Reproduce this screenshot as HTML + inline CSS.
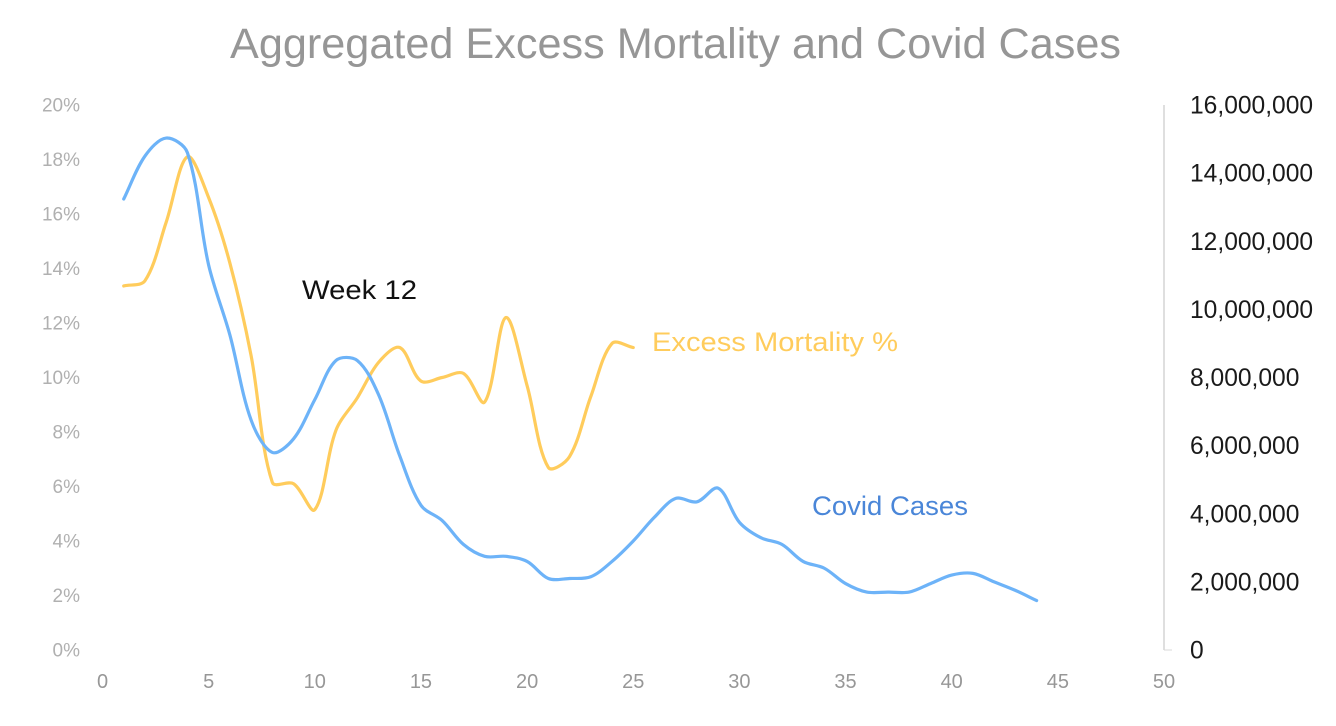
<!DOCTYPE html>
<html lang="en">
<head>
<meta charset="utf-8">
<title>Aggregated Excess Mortality and Covid Cases</title>
<style>
html,body{margin:0;padding:0;background:#fff;width:1336px;height:726px;overflow:hidden}
svg{display:block;font-family:"Liberation Sans",sans-serif}
</style>
</head>
<body>
<svg id="chart" width="1336" height="726" viewBox="0 0 1336 726" xmlns="http://www.w3.org/2000/svg">
  <rect width="1336" height="726" fill="#ffffff"/>
  <text x="675.5" y="58" text-anchor="middle" font-size="43" fill="#969696" textLength="891" lengthAdjust="spacingAndGlyphs">Aggregated Excess Mortality and Covid Cases</text>
  <line id="right-axis" stroke="#bfbfbf" stroke-width="1"/>
  <g id="left-ticks"></g>
  <g id="right-ticks"></g>
  <g id="x-ticks"></g>
  <path id="line-mortality" fill="none" stroke="#ffcc5c" stroke-width="3.2" stroke-linecap="round" stroke-linejoin="round"/>
  <path id="line-cases" fill="none" stroke="#6db3f8" stroke-width="3.2" stroke-linecap="round" stroke-linejoin="round"/>
  <text x="302" y="299" font-size="27" fill="#111111" textLength="115" lengthAdjust="spacingAndGlyphs">Week 12</text>
  <text x="652" y="351" font-size="27" fill="#ffcc5c" textLength="246" lengthAdjust="spacingAndGlyphs">Excess Mortality %</text>
  <text x="812" y="515" font-size="27" fill="#4a86d8" textLength="156" lengthAdjust="spacingAndGlyphs">Covid Cases</text>
</svg>
<script>
const mortalityPct = [13.36,13.55,15.7,18.1,16.6,14.2,10.8,6.15,6.1,5.15,8.07,9.25,10.55,11.1,9.87,10,10.15,9.1,12.2,9.7,6.7,7.1,9.3,11.25,11.1];
const covidCases = [13240000,14500000,15030000,14600000,11300000,9250000,6750000,5800000,6200000,7350000,8500000,8500000,7500000,5700000,4250000,3800000,3100000,2750000,2750000,2600000,2100000,2100000,2150000,2600000,3200000,3900000,4450000,4350000,4750000,3750000,3300000,3100000,2600000,2400000,1950000,1700000,1700000,1700000,1950000,2200000,2250000,2000000,1750000,1450000];
const leftTickValues = [0,2,4,6,8,10,12,14,16,18,20];
const rightTickValues = [0,2000000,4000000,6000000,8000000,10000000,12000000,14000000,16000000];
const xTickValues = [0,5,10,15,20,25,30,35,40,45,50];

const X0 = 102.5, X1 = 1164, Y0 = 650, Y1 = 105;
const NS = 'http://www.w3.org/2000/svg';
const xScale = v => X0 + (X1 - X0) * v / 50;
const yLeft = v => Y0 - (Y0 - Y1) * v / 20;
const yRight = v => Y0 - (Y0 - Y1) * v / 16000000;
const dist = (a, b) => Math.hypot(b[0] - a[0], b[1] - a[1]);

function smoothPath(values, yScale) {
  const pts = values.map((v, i) => [xScale(i + 1), yScale(v)]);
  let d = 'M' + pts[0][0].toFixed(2) + ' ' + pts[0][1].toFixed(2);
  for (let i = 0; i < pts.length - 1; i++) {
    const p0 = pts[Math.max(i - 1, 0)];
    const p1 = pts[i];
    const p2 = pts[i + 1];
    const p3 = pts[Math.min(i + 2, pts.length - 1)];
    const d12 = dist(p1, p2);
    const f1 = d12 / (dist(p0, p1) + d12 || 1) / 3 * 1.0;
    const f2 = d12 / (d12 + dist(p2, p3) || 1) / 3 * 1.0;
    const c1x = p1[0] + (p2[0] - p0[0]) * f1;
    const c1y = p1[1] + (p2[1] - p0[1]) * f1;
    const c2x = p2[0] - (p3[0] - p1[0]) * f2;
    const c2y = p2[1] - (p3[1] - p1[1]) * f2;
    d += 'C' + c1x.toFixed(2) + ' ' + c1y.toFixed(2) + ' ' + c2x.toFixed(2) + ' ' + c2y.toFixed(2) + ' ' + p2[0].toFixed(2) + ' ' + p2[1].toFixed(2);
  }
  return d;
}

document.getElementById('line-mortality').setAttribute('d', smoothPath(mortalityPct, yLeft));
document.getElementById('line-cases').setAttribute('d', smoothPath(covidCases, yRight));

const axis = document.getElementById('right-axis');
axis.setAttribute('x1', xScale(50));
axis.setAttribute('x2', xScale(50));
axis.setAttribute('y1', yRight(16000000));
axis.setAttribute('y2', yRight(0));

const leftGroup = document.getElementById('left-ticks');
leftTickValues.forEach(v => {
  const el = document.createElementNS(NS, 'text');
  
  
  el.setAttribute('x', 80);
  el.setAttribute('y', yLeft(v) + 6.5);
  el.setAttribute('text-anchor', 'end');
  el.setAttribute('font-size', '19');
  el.setAttribute('fill', '#b0b0b0');
  el.textContent = v + '%';
  leftGroup.appendChild(el);
});

const rightGroup = document.getElementById('right-ticks');
rightTickValues.forEach(v => {
  const el = document.createElementNS(NS, 'text');
  
  
  el.setAttribute('x', 1190);
  el.setAttribute('y', yRight(v) + 8.5);
  el.setAttribute('font-size', '24.6');
  el.setAttribute('fill', '#1a1a1a');
  el.textContent = v.toLocaleString('en-US');
  rightGroup.appendChild(el);
});

const tickMark = document.createElementNS(NS, 'line');


tickMark.setAttribute('x1', xScale(50));
tickMark.setAttribute('x2', xScale(50) + 8);
tickMark.setAttribute('y1', yRight(0));
tickMark.setAttribute('y2', yRight(0));
tickMark.setAttribute('stroke', '#d9d9d9');
rightGroup.appendChild(tickMark);

const xGroup = document.getElementById('x-ticks');
xTickValues.forEach(v => {
  const el = document.createElementNS(NS, 'text');
  
  
  el.setAttribute('x', xScale(v));
  el.setAttribute('y', 688);
  el.setAttribute('text-anchor', 'middle');
  el.setAttribute('font-size', '20');
  el.setAttribute('fill', '#979797');
  el.textContent = v;
  xGroup.appendChild(el);
});
</script>
</body>
</html>
